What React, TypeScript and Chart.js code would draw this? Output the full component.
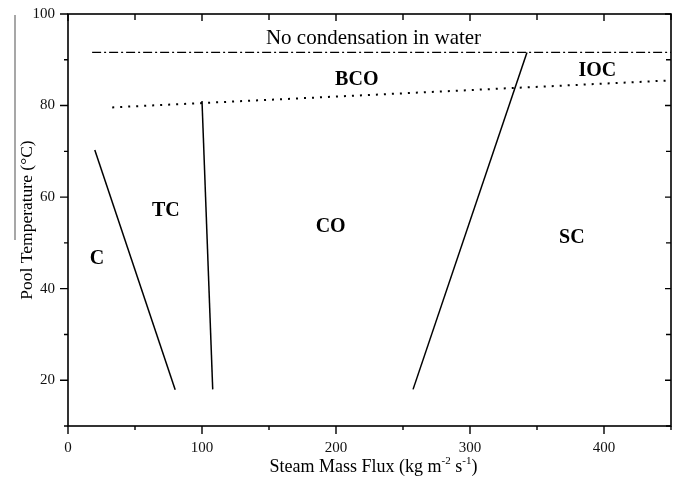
import React, { useEffect, useRef } from "react";
import { Chart, registerables } from "chart.js";

Chart.register(...registerables);

// ---- data ----
const xMajorTicks = [0, 100, 200, 300, 400];
const xMinorTicks = [50, 150, 250, 350, 450];
const yMajorTicks = [20, 40, 60, 80, 100];
const yMinorTicks = [10, 30, 50, 70, 90];

const noCondX = [18, 450];
const noCondY = [91.6, 91.6];
const bcoBoundX = [33, 450];
const bcoBoundY = [79.6, 85.5];
const cBoundX = [20, 80];
const cBoundY = [70.3, 17.9];
const tcBoundX = [100, 108];
const tcBoundY = [81, 18];
const scBoundX = [257.5, 342.5];
const scBoundY = [18, 91.6];

const regionNames = ["BCO", "IOC", "TC", "C", "CO", "SC"];
const regionX = [215.5, 395, 73, 21.6, 196, 376];
const regionY = [85.6, 87.6, 57, 46.5, 53.5, 51.2];

const noteText = "No condensation in water";
const noteX = 228;
const noteY = 94.6;

const SERIF = "'Liberation Serif', 'DejaVu Serif', serif";

function pts(xs: number[], ys: number[]) {
  return xs.map((x, i) => ({ x, y: ys[i] }));
}

const decoPlugin = {
  id: "deco",
  afterDraw(chart: any) {
    const { ctx, chartArea: a, scales } = chart;
    const xs = scales.x;
    const ys = scales.y;
    ctx.save();
    // stray gray rule at far left
    ctx.strokeStyle = "#8a8a8a";
    ctx.lineWidth = 1.5;
    ctx.beginPath();
    ctx.moveTo(15, 15);
    ctx.lineTo(15, 240);
    ctx.stroke();

    // frame
    ctx.strokeStyle = "#000";
    ctx.lineWidth = 1.6;
    ctx.strokeRect(a.left, a.top, a.right - a.left, a.bottom - a.top);

    ctx.lineWidth = 1.4;
    ctx.beginPath();
    const tickX = (v: number, len: number, inLen: number) => {
      const px = xs.getPixelForValue(v);
      ctx.moveTo(px, a.bottom);
      ctx.lineTo(px, a.bottom + len);
      ctx.moveTo(px, a.top);
      ctx.lineTo(px, a.top + inLen);
    };
    const tickY = (v: number, len: number, inLen: number) => {
      const py = ys.getPixelForValue(v);
      ctx.moveTo(a.left, py);
      ctx.lineTo(a.left - len, py);
      ctx.moveTo(a.right, py);
      ctx.lineTo(a.right - inLen, py);
    };
    xMajorTicks.forEach((v) => tickX(v, 8, 7));
    xMinorTicks.forEach((v) => tickX(v, 4, 6));
    yMajorTicks.forEach((v) => tickY(v, 8, 6));
    yMinorTicks.forEach((v) => tickY(v, 4, 5));
    ctx.stroke();

    // annotation texts
    ctx.fillStyle = "#000";
    ctx.textAlign = "center";
    ctx.textBaseline = "middle";
    ctx.font = `21px ${SERIF}`;
    ctx.fillText(noteText, xs.getPixelForValue(noteX), ys.getPixelForValue(noteY));
    ctx.font = `bold 20px ${SERIF}`;
    regionNames.forEach((n, i) => {
      ctx.fillText(n, xs.getPixelForValue(regionX[i]), ys.getPixelForValue(regionY[i]));
    });

    // x-axis title with superscripts
    const parts: [string, boolean][] = [
      ["Steam Mass Flux (kg m", false],
      ["-2", true],
      [" s", false],
      ["-1", true],
      [")", false],
    ];
    const normFont = `18px ${SERIF}`;
    const supFont = `11px ${SERIF}`;
    let total = 0;
    parts.forEach(([t, s]) => {
      ctx.font = s ? supFont : normFont;
      total += ctx.measureText(t).width;
    });
    let cx = (a.left + a.right) / 2 + 4 - total / 2;
    const baseY = 472;
    ctx.textAlign = "left";
    ctx.textBaseline = "alphabetic";
    parts.forEach(([t, s]) => {
      ctx.font = s ? supFont : normFont;
      ctx.fillText(t, cx, s ? baseY - 8 : baseY);
      cx += ctx.measureText(t).width;
    });

    // y-axis title
    ctx.save();
    ctx.translate(27, (a.top + a.bottom) / 2);
    ctx.rotate(-Math.PI / 2);
    ctx.textAlign = "center";
    ctx.textBaseline = "middle";
    ctx.font = `17.5px ${SERIF}`;
    ctx.fillText("Pool Temperature (°C)", 0, 0);
    ctx.restore();

    ctx.restore();
  },
};

export default function App() {
  const ref = useRef<HTMLCanvasElement>(null);
  useEffect(() => {
    if (!ref.current) return;
    const lineBase = {
      showLine: true,
      pointRadius: 0,
      borderColor: "#000",
      fill: false,
      tension: 0,
    };
    const chart = new Chart(ref.current, {
      type: "scatter",
      data: {
        datasets: [
          { ...lineBase, data: pts(noCondX, noCondY), borderWidth: 1.3, borderDash: [9, 3, 2, 3] },
          { ...lineBase, data: pts(bcoBoundX, bcoBoundY), borderWidth: 2, borderDash: [2, 6] },
          { ...lineBase, data: pts(cBoundX, cBoundY), borderWidth: 1.5 },
          { ...lineBase, data: pts(tcBoundX, tcBoundY), borderWidth: 1.5 },
          { ...lineBase, data: pts(scBoundX, scBoundY), borderWidth: 1.5 },
        ],
      },
      options: {
        animation: false,
        responsive: false,
        layout: { padding: { top: 14, right: 5, left: 0, bottom: 0 } },
        plugins: { legend: { display: false }, tooltip: { enabled: false } },
        scales: {
          x: {
            type: "linear",
            min: 0,
            max: 450,
            grid: { display: false, drawTicks: false },
            border: { display: false },
            afterBuildTicks: (s: any) => {
              s.ticks = xMajorTicks.map((v) => ({ value: v }));
            },
            afterFit: (s: any) => {
              s.height = 52;
              s.paddingLeft = 0;
              s.paddingRight = 0;
            },
            ticks: {
              color: "#111",
              padding: 13,
              maxRotation: 0,
              font: { family: SERIF, size: 15 },
            },
          },
          y: {
            type: "linear",
            min: 10,
            max: 100,
            grid: { display: false, drawTicks: false },
            border: { display: false },
            afterBuildTicks: (s: any) => {
              s.ticks = yMajorTicks.map((v) => ({ value: v }));
            },
            afterFit: (s: any) => {
              s.width = 68;
              s.paddingTop = 0;
              s.paddingBottom = 0;
            },
            ticks: {
              color: "#111",
              padding: 13,
              font: { family: SERIF, size: 15 },
            },
          },
        },
      },
      plugins: [decoPlugin],
    } as any);
    return () => chart.destroy();
  }, []);
  return (
    <div style={{ position: "fixed", left: 0, top: 0, width: 676, height: 478, background: "#fff" }}>
      <canvas ref={ref} width={676} height={478} style={{ width: 676, height: 478, display: "block" }} />
    </div>
  );
}
